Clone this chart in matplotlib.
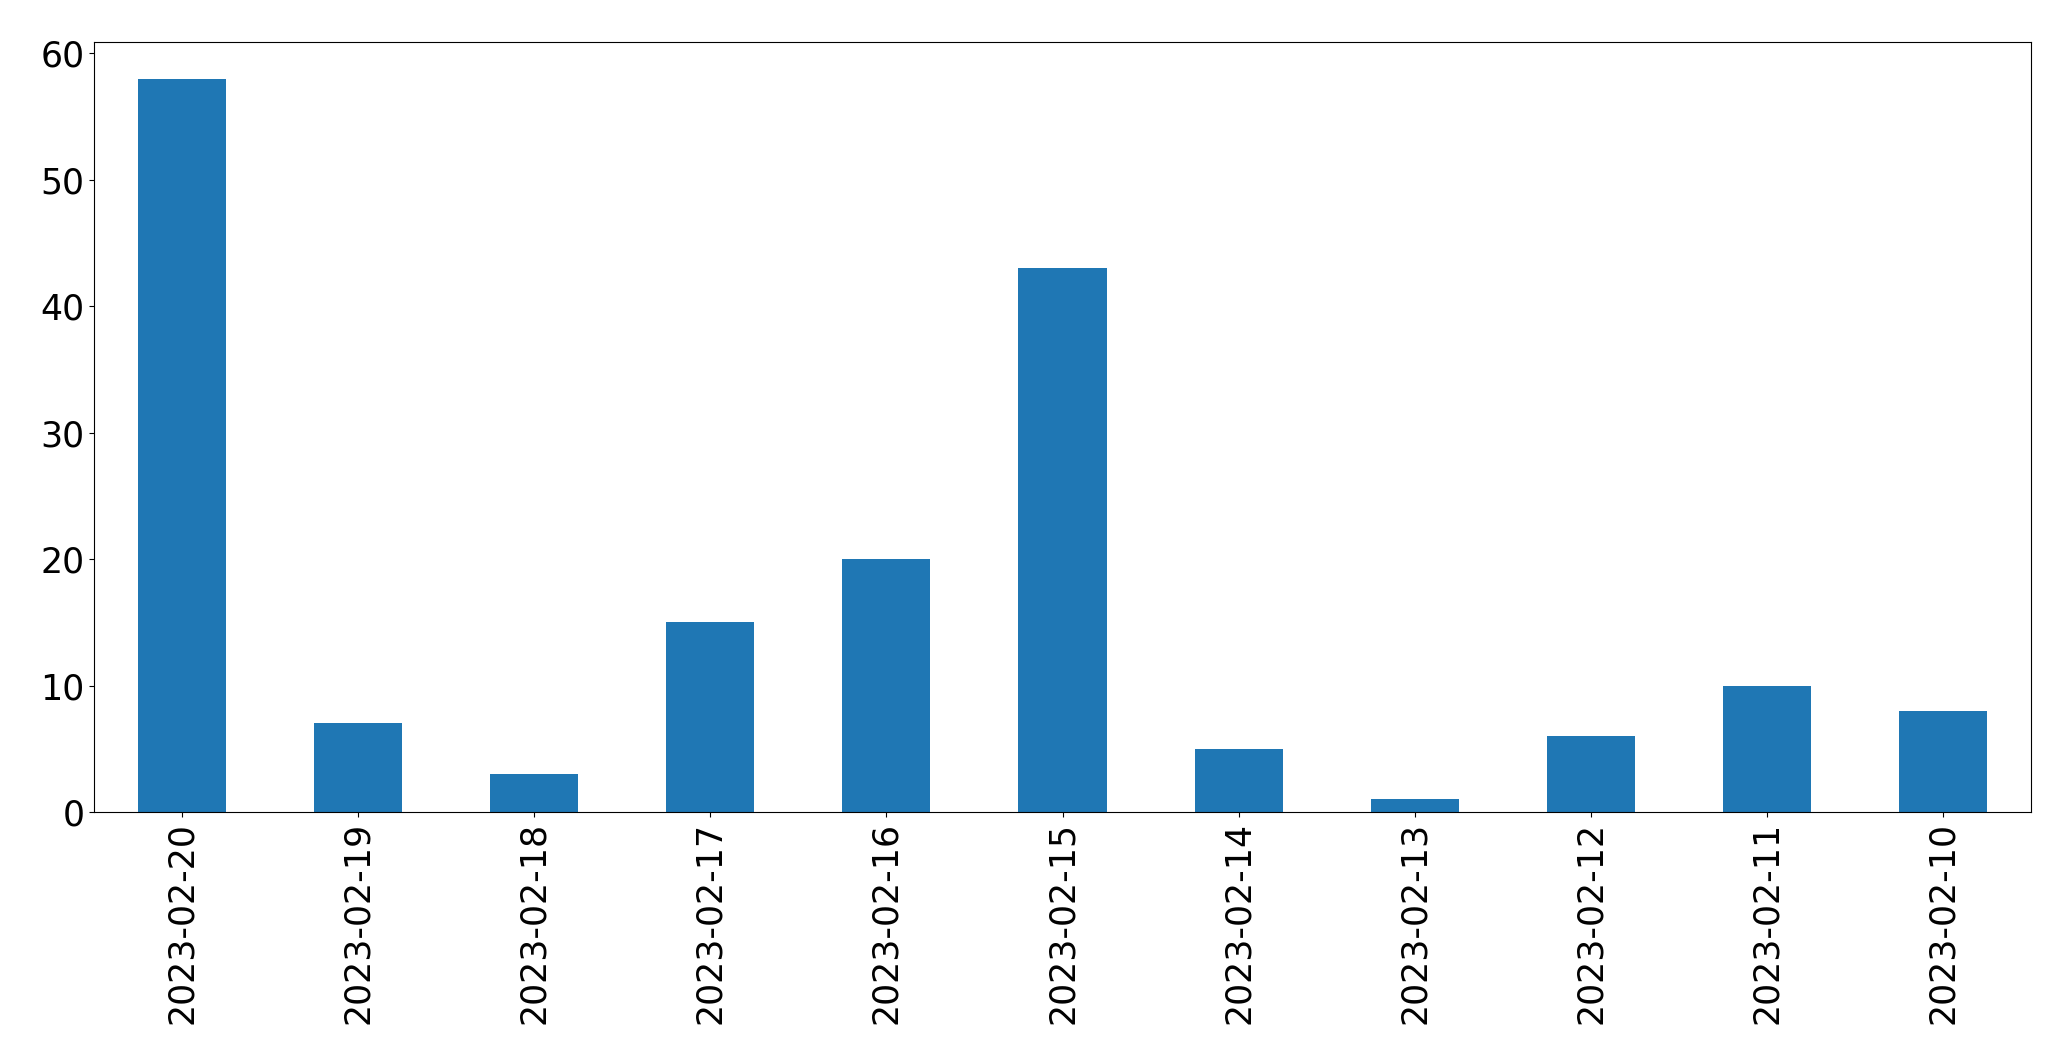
import matplotlib
matplotlib.use("Agg")
import matplotlib.pyplot as plt

dates = ["2023-02-20", "2023-02-19", "2023-02-18", "2023-02-17", "2023-02-16",
         "2023-02-15", "2023-02-14", "2023-02-13", "2023-02-12", "2023-02-11", "2023-02-10"]
counts = [58, 7, 3, 15, 20, 43, 5, 1, 6, 10, 8]

fig = plt.figure(figsize=(20.71, 10.64), dpi=100)
ax = fig.add_axes([94/2071, 1 - 812/1064, (2031-94)/2071, (812-42)/1064])
x = range(len(dates))
ax.bar(x, counts, width=0.5, color="#1f77b4")
ax.set_xticks(list(x))
ax.set_xticklabels(dates, rotation=90)
ax.set_xlim(-0.5, len(dates) - 0.5)
ax.tick_params(axis="both", labelsize=25)
fig.savefig("out.png", dpi=100)
